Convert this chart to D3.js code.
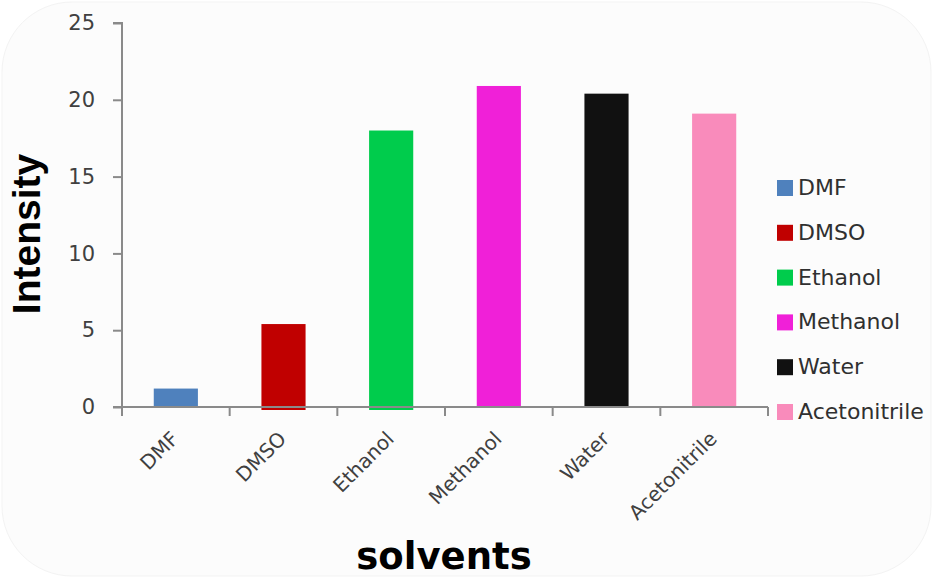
<!DOCTYPE html>
<html>
<head>
<meta charset="utf-8">
<script src="https://cdn.jsdelivr.net/npm/d3@7"></script>
<style>
  body { margin: 0; background: #ffffff; }
  svg { display: block; }
</style>
</head>
<body>
<div id="vis1"></div>
<script>
// chart data
const CATEGORIES = ["DMF", "DMSO", "Ethanol", "Methanol", "Water", "Acetonitrile"];
const INTENSITY = [1.2, 5.4, 18.0, 20.9, 20.4, 19.1];
const COLORS = ["#4f81bd", "#c00000", "#00cc4c", "#f020d8", "#111111", "#f98bbb"];
const Y_TICKS = [0, 5, 10, 15, 20, 25];

const WIDTH = 933, HEIGHT = 578;
const PLOT = {left: 122, right: 768, top: 23, bottom: 407};
const FONT = "DejaVu Sans, Verdana, sans-serif";

const svg = d3.select("#vis1")
  .append("svg")
    .attr("width", WIDTH)
    .attr("height", HEIGHT);

// faint rounded panel behind the chart
svg.append("rect")
  .attr("x", 2).attr("y", 2)
  .attr("width", WIDTH - 4).attr("height", HEIGHT - 4)
  .attr("rx", 70)
  .attr("fill", "#fcfcfc")
  .attr("stroke", "#f3f3f3");

const x = d3.scaleBand()
  .domain(CATEGORIES)
  .range([PLOT.left, PLOT.right])
  .paddingInner(0.59)
  .paddingOuter(0.295);

const xTicks = d3.scaleBand().domain(CATEGORIES).range([PLOT.left, PLOT.right]);

const y = d3.scaleLinear()
  .domain([0, 25])
  .range([PLOT.bottom, PLOT.top]);

// bars (a couple poke a touch below the axis like the original)
svg.selectAll(".bar")
  .data(CATEGORIES)
  .enter()
  .append("rect")
    .attr("class", "bar")
    .attr("x", d => x(d))
    .attr("y", (d, i) => y(INTENSITY[i]))
    .attr("width", x.bandwidth())
    .attr("height", (d, i) => y(0) - y(INTENSITY[i]) + (i > 0 && i < 3 ? 3 : 0))
    .attr("fill", (d, i) => COLORS[i]);

// y axis
const yAxis = svg.append("g")
  .attr("transform", "translate(" + PLOT.left + ",0)")
  .call(d3.axisLeft(y).tickValues(Y_TICKS).tickSize(9).tickPadding(18));
yAxis.selectAll("path, line").attr("stroke", "#8a8a8a").attr("stroke-width", 2);
yAxis.select(".domain").attr("d", "M-9," + y(25) + "H0V" + y(0) + "H-9");
yAxis.selectAll("text")
  .attr("font-family", FONT)
  .attr("font-size", 21)
  .attr("fill", "#404040");

// x axis: ticks on band boundaries
const bounds = CATEGORIES.map(d => xTicks(d)).concat([PLOT.right]);
const xAxis = svg.append("g");
xAxis.append("line")
  .attr("x1", PLOT.left).attr("x2", PLOT.right)
  .attr("y1", y(0)).attr("y2", y(0))
  .attr("stroke", "#8a8a8a").attr("stroke-width", 2);
xAxis.selectAll(".tk")
  .data(bounds)
  .enter()
  .append("line")
    .attr("x1", d => d).attr("x2", d => d)
    .attr("y1", y(0)).attr("y2", y(0) + 9)
    .attr("stroke", "#8a8a8a").attr("stroke-width", 2);
xAxis.selectAll(".lbl")
  .data(CATEGORIES)
  .enter()
  .append("text")
    .attr("transform", d => "translate(" + (x(d) + x.bandwidth() / 2 + 4) + "," + (y(0) + 33) + ")rotate(-45)")
    .attr("text-anchor", "end")
    .attr("font-family", FONT)
    .attr("font-size", 20)
    .attr("fill", "#404040")
    .text(d => d);

// axis titles
svg.append("text")
  .attr("transform", "translate(40,234)rotate(-90)")
  .attr("text-anchor", "middle")
  .attr("font-family", "Liberation Sans, Arial, sans-serif")
  .attr("font-weight", "bold")
  .attr("font-size", 39)
  .attr("fill", "#000")
  .text("Intensity");

svg.append("text")
  .attr("x", 444).attr("y", 569)
  .attr("text-anchor", "middle")
  .attr("font-family", FONT)
  .attr("font-weight", "bold")
  .attr("font-size", 37)
  .attr("fill", "#000")
  .text("solvents");

// legend
const legend = svg.selectAll(".leg")
  .data(CATEGORIES)
  .enter()
  .append("g")
    .attr("transform", (d, i) => "translate(777," + (188 + i * 44.8) + ")");
legend.append("rect")
  .attr("x", 0).attr("y", -8)
  .attr("width", 16).attr("height", 16)
  .attr("fill", (d, i) => COLORS[i]);
legend.append("text")
  .attr("x", 21).attr("y", 7)
  .attr("font-family", FONT)
  .attr("font-size", 22)
  .attr("fill", "#303030")
  .text(d => d);
</script>
</body>
</html>
